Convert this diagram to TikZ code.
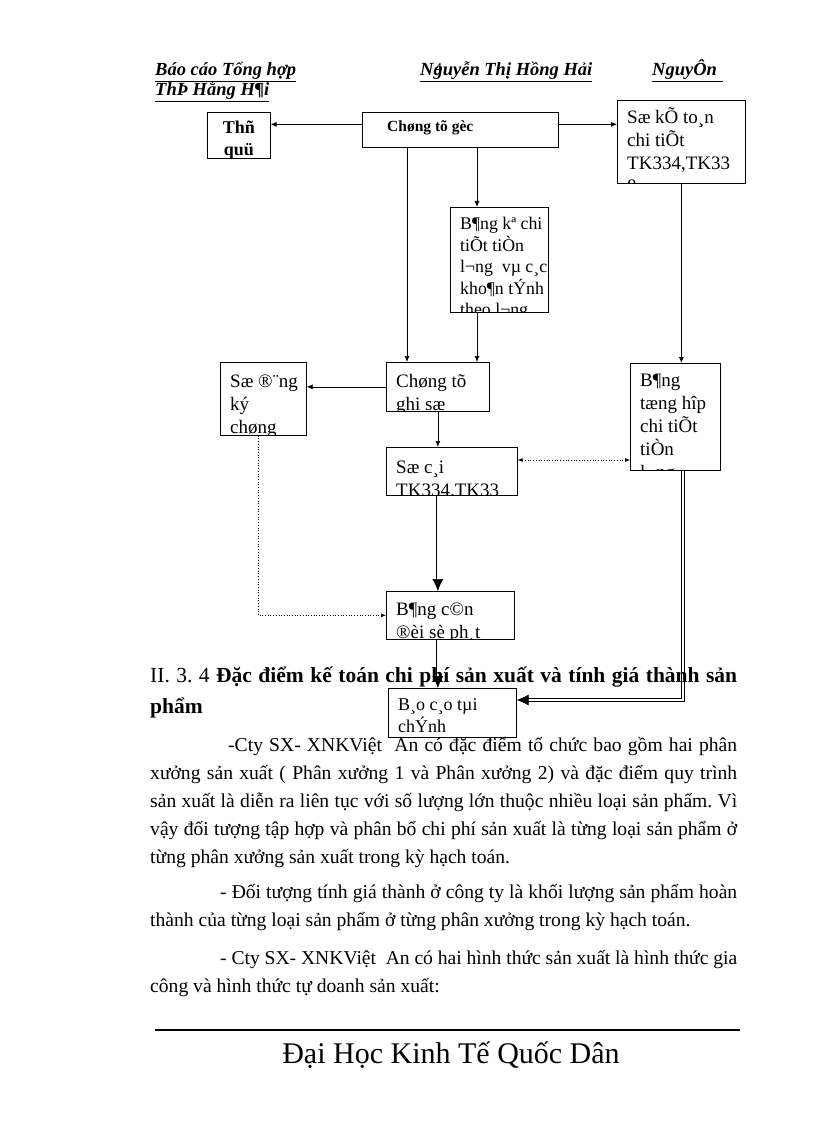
\documentclass[tikz,border=0pt]{standalone}
\usepackage{fontspec}
\setmainfont{Liberation Serif}
\usetikzlibrary{arrows.meta}
\frenchspacing

\tikzset{
  box/.style={draw, rectangle, anchor=north west, inner sep=0pt, line width=0.7pt},
  intext/.style={anchor=north west, inner sep=0pt, align=left, font=\fontsize{19}{23}\selectfont},
  arr/.style={line width=0.7pt, -{Latex[length=6pt,width=5pt]}},
  dblarr/.style={double, double distance=2pt, line width=0.6pt, -{Latex[length=12pt,width=11pt]}},
  dotarr/.style={dotted, line width=0.7pt, -{Latex[length=5pt,width=4pt]}},
  hd/.style={anchor=base west, inner sep=0pt, font=\fontsize{18.5}{20}\selectfont\bfseries\itshape},
  txt/.style={anchor=base west, inner sep=0pt, font=\fontsize{19.6}{28}\selectfont},
  headline/.style={anchor=base west, inner sep=0pt, font=\fontsize{21.5}{28}\selectfont\bfseries},
}

\begin{document}
\begin{tikzpicture}[x=1pt,y=-1pt]
    \useasboundingbox (0,0) rectangle (816,1123);

    % page header
    \node [hd] (hd1) at (155,76) {\underline{Báo cáo Tổng hợp}};
    \node [hd] (hd2) at (420,76) {\underline{Nguyễn Thị Hồng Hải}};
    \node [hd] (hd3) at (652,76) {\underline{NguyÔn\hspace{6pt}}};
    \node [hd] (hd4) at (155,96) {\underline{ThÞ Hằng H¶i}};
    \node [anchor=base west, inner sep=0pt, font=\fontsize{14}{16}\selectfont] (pgnum) at (435,73) {4};

    % boxes
    \node [box, minimum width=63pt, minimum height=46pt] (thuquy) at (207,112) {};
    \node [box, minimum width=196pt, minimum height=35pt] (goc) at (362,112) {};
    \node [box, minimum width=128pt, minimum height=83pt] (sokt) at (617,100) {};
    \node [box, minimum width=98pt, minimum height=105pt] (bangke) at (450,207) {};
    \node [box, minimum width=86pt, minimum height=73pt] (sodangky) at (220,362) {};
    \node [box, minimum width=103pt, minimum height=49pt] (ghiso) at (386,362) {};
    \node [box, minimum width=90pt, minimum height=107pt] (tonghop) at (630,363) {};
    \node [box, minimum width=131pt, minimum height=48pt] (socai) at (386,447) {};
    \node [box, minimum width=128pt, minimum height=48pt] (candoi) at (386,591) {};
    \node [box, minimum width=128pt, minimum height=49pt] (baocao) at (388,688) {};

    % box texts, cut off at the box edge
    \node [intext, anchor=north, align=center, font=\fontsize{18}{22}\selectfont\bfseries] (thuquyT)
          at ([yshift=-9pt]thuquy.north) {Thñ\\quü};
    \node [intext, font=\fontsize{15.5}{18}\selectfont\bfseries] (gocT)
          at ([xshift=25pt,yshift=-9pt]goc.north west) {Chøng tõ gèc};
    \begin{scope}
      \clip (sokt.north west) rectangle (sokt.south east);
      \node [intext] (soktT) at ([xshift=10pt,yshift=-7pt]sokt.north west)
            {Sæ kÕ to¸n\\chi tiÕt\\TK334,TK33\\8};
    \end{scope}
    \begin{scope}
      \clip (bangke.north west) rectangle (bangke.south east);
      \node [intext, font=\fontsize{17.8}{21.5}\selectfont] (bangkeT) at ([xshift=10pt,yshift=-10pt]bangke.north west)
            {B¶ng kª chi\\tiÕt tiÒn\\l¬ng\ \ vµ c¸c\\kho¶n tÝnh\\theo l¬ng};
    \end{scope}
    \begin{scope}
      \clip (sodangky.north west) rectangle (sodangky.south east);
      \node [intext] (sodangkyT) at ([xshift=10pt,yshift=-13pt]sodangky.north west)
            {Sæ ®¨ng\\ký\\chøng};
    \end{scope}
    \begin{scope}
      \clip (ghiso.north west) rectangle (ghiso.south east);
      \node [intext] (ghisoT) at ([xshift=10pt,yshift=-12pt]ghiso.north west)
            {Chøng tõ\\ghi\ sæ};
    \end{scope}
    \begin{scope}
      \clip (tonghop.north west) rectangle (tonghop.south east);
      \node [intext] (tonghopT) at ([xshift=10pt,yshift=-11pt]tonghop.north west)
            {B¶ng\\tæng hîp\\chi tiÕt\\tiÒn\\l¬ng};
    \end{scope}
    \begin{scope}
      \clip (socai.north west) rectangle (socai.south east);
      \node [intext] (socaiT) at ([xshift=10pt,yshift=-14pt]socai.north west)
            {Sæ c¸i\\TK334.TK33};
    \end{scope}
    \begin{scope}
      \clip (candoi.north west) rectangle (candoi.south east);
      \node [intext] (candoiT) at ([xshift=10pt,yshift=-12pt]candoi.north west)
            {B¶ng c©n\\®èi sè ph¸t};
    \end{scope}
    \begin{scope}
      \clip (baocao.north west) rectangle (baocao.south east);
      \node [intext, font=\fontsize{18}{22}\selectfont] (baocaoT) at ([xshift=10pt,yshift=-10pt]baocao.north west)
            {B¸o c¸o tµi\\chÝnh};
    \end{scope}

    % connectors
    \draw [arr] ([yshift=5.5pt]goc.west) -- ([yshift=5.5pt]goc.west -| thuquy.east);
    \draw [arr] ([yshift=5.5pt]goc.east) -- ([yshift=5.5pt]goc.east -| sokt.west);
    \draw [arr] ([xshift=21pt]ghiso.north west |- goc.south) -- ([xshift=21pt]ghiso.north west);
    \draw [arr] ([xshift=27pt]bangke.north west |- goc.south) -- ([xshift=27pt]bangke.north west);
    \draw [arr] ([xshift=27pt]bangke.south west) -- ([xshift=27pt]bangke.south west |- ghiso.north);
    \draw [arr] (sokt.south) -- (sokt.south |- tonghop.north);
    \draw [arr] (ghiso.west) -- (ghiso.west -| sodangky.east);
    \draw [arr] (ghiso.south) -- (ghiso.south |- socai.north);
    \draw [dotarr, {Latex[length=5pt,width=4pt]}-{Latex[length=5pt,width=4pt]}]
          ([yshift=-13pt]socai.north east) -- ([yshift=-13pt]socai.north east -| tonghop.west);
    \draw [dotarr] ([xshift=-5pt]sodangky.south) |- (candoi.west);
    \draw [dblarr] (ghiso.south |- socai.south) -- (ghiso.south |- candoi.north);
    \draw [dblarr] (ghiso.south |- candoi.south) -- (ghiso.south |- baocao.north);
    \draw [dblarr] ([xshift=53pt]tonghop.south west) |- ([yshift=-12pt]baocao.north east);

    % text of the page
    \node [headline] (h1) at (150,682) {\makebox[587pt][s]{{\mdseries II. 3. 4} Đặc điểm kế toán chi phí sản xuất và tính giá thành sản}};
    \node [headline] (h2) at (150,713) {phẩm};
    \node [txt] (p1) at (228,751) {\makebox[509pt][s]{-Cty SX- XNKViệt\ \ An có đặc điểm tổ chức bao gồm hai phân}};
    \node [txt] (p2) at (150,779) {\makebox[587pt][s]{xưởng sản xuất ( Phân xưởng 1 và Phân xưởng 2) và đặc điểm quy trình}};
    \node [txt] (p3) at (150,807) {\makebox[587pt][s]{sản xuất là diễn ra liên tục với số lượng lớn thuộc nhiều loại sản phẩm. Vì}};
    \node [txt] (p4) at (150,835) {\makebox[587pt][s]{vậy đối tượng tập hợp và phân bổ chi phí sản xuất là từng loại sản phẩm ở}};
    \node [txt] (p5) at (150,863) {từng phân xưởng sản xuất trong kỳ hạch toán.};
    \node [txt] (p6) at (220,898) {\makebox[517pt][s]{- Đối tượng tính giá thành ở công ty là khối lượng sản phẩm hoàn}};
    \node [txt] (p7) at (150,926) {thành của từng loại sản phẩm ở từng phân xưởng trong kỳ hạch toán.};
    \node [txt] (p8) at (220,964) {\makebox[517pt][s]{- Cty SX- XNKViệt\ \ An có hai hình thức sản xuất là hình thức gia}};
    \node [txt] (p9) at (150,992) {công và hình thức tự doanh sản xuất:};

    % page footer
    \draw [line width=1.6pt] (155,1030) -- (740,1030);
    \node [anchor=base, inner sep=0pt, font=\fontsize{30}{32}\selectfont] (footer) at (451,1063) {Đại Học Kinh Tế Quốc Dân};
\end{tikzpicture}
\end{document}
